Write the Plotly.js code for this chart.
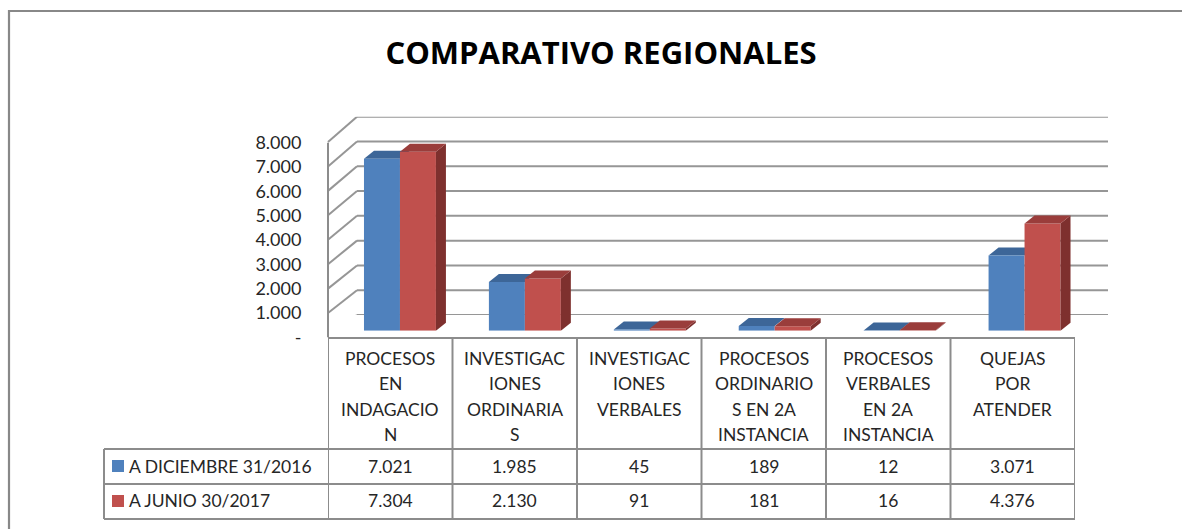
<!DOCTYPE html>
<html><head><meta charset="utf-8">
<script src="https://cdn.plot.ly/plotly-3.0.1.min.js"></script>
<style>html,body{margin:0;padding:0;background:#fff}#chart{width:1182px;height:529px}</style>
</head><body><div id="chart"></div>
<script>
// ---------- data ----------
const categoryLines = [
  ['PROCESOS','EN','INDAGACIO','N'],
  ['INVESTIGAC','IONES','ORDINARIA','S'],
  ['INVESTIGAC','IONES','VERBALES'],
  ['PROCESOS','ORDINARIO','S EN 2A','INSTANCIA'],
  ['PROCESOS','VERBALES','EN 2A','INSTANCIA'],
  ['QUEJAS','POR','ATENDER']
];
const seriesNames = ['A DICIEMBRE 31/2016', 'A JUNIO 30/2017'];
const dic2016 = [7021, 1985, 45, 189, 12, 3071];
const jun2017 = [7304, 2130, 91, 181, 16, 4376];
const yTickVals = [0, 1000, 2000, 3000, 4000, 5000, 6000, 7000, 8000];
const yTickText = ['-', '1.000', '2.000', '3.000', '4.000', '5.000', '6.000', '7.000', '8.000'];
const chartTitle = 'COMPARATIVO REGIONALES';

// ---------- geometry / style ----------
const W = 1182, H = 529;
const fx = p => p / W, fy = p => 1 - p / H;
const YMAX = 8000;
const BACK  = {x0: 357,   x1: 1108, y0: 315,   y1: 116.7};
const BARS  = {x0: 337.5, x1: 1087, y0: 330.7, y1: 134.7};
const FRONT = {x0: 328,   x1: 1075, y0: 337.5, y1: 142.5};
const TABLE = {left: 104, top: 338, head: 449, row1: 484, row2: 519};
const FONT = 'Lato, "Open Sans", sans-serif';
const TXT = '#262626';
const GRID = '#969696', TLINE = '#8c8c8c';
const BLUE = '#4F81BD', BLUE_TOP = '#3D6698';
const RED = '#C0504D', RED_TOP = '#9A3D3B', RED_SIDE = '#7E302E';
const BW = 0.288;           // bar width in category units
const DX = 10, DY = 8;      // bar depth in px
const fmt = v => v.toString().replace(/\B(?=(\d{3})+(?!\d))/g, '.');
const idx = dic2016.map((_, i) => i);
const nCat = categoryLines.length;

const traces = [
  {type: 'scatter', x: [], y: [], xaxis: 'x', yaxis: 'y', hoverinfo: 'skip', showlegend: false},
  {type: 'bar', name: seriesNames[0], x: idx, y: dic2016, xaxis: 'x2', yaxis: 'y2',
   width: BW, offset: -BW, marker: {color: BLUE, line: {width: 0}}, showlegend: false},
  {type: 'bar', name: seriesNames[1], x: idx, y: jun2017, xaxis: 'x2', yaxis: 'y2',
   width: BW, offset: 0, marker: {color: RED, line: {width: 0}}, showlegend: false},
  {type: 'scatter', x: [], y: [], xaxis: 'x3', yaxis: 'y3', hoverinfo: 'skip', showlegend: false}
];

const shapes = [];
// outer frame
shapes.push({type: 'rect', xref: 'paper', yref: 'paper', x0: fx(9), x1: fx(1200), y0: fy(11), y1: fy(560),
  line: {color: '#888888', width: 2.2}, fillcolor: 'rgba(0,0,0,0)', layer: 'below'});
// back wall gridlines + left wall diagonals
const dyWall = v => 22.5 + v * 2.8 / YMAX;
yTickVals.forEach(v => {
  shapes.push({type: 'line', xref: 'x domain', yref: 'y', x0: 0, x1: 1, y0: v, y1: v,
    line: {color: GRID, width: 2}, layer: 'below'});
  shapes.push({type: 'line', xref: 'x domain', yref: 'y', xsizemode: 'pixel', xanchor: 0, x0: 0, x1: -29,
    ysizemode: 'pixel', yanchor: v, y0: 0, y1: -dyWall(v), line: {color: GRID, width: 2}, layer: 'below'});
});
// floor right edge
shapes.push({type: 'line', xref: 'x domain', yref: 'y', xsizemode: 'pixel', xanchor: 1, x0: 0, x1: -31,
  ysizemode: 'pixel', yanchor: 0, y0: 0, y1: -23, line: {color: GRID, width: 2}, layer: 'below'});
// front-left vertical edge of the wall
shapes.push({type: 'line', xref: 'x3 domain', yref: 'y3', x0: 0, x1: 0, y0: 0, y1: YMAX,
  line: {color: TLINE, width: 2}, layer: 'below'});

// 3D faces of bars
const pxX = (BARS.x1 - BARS.x0) / nCat, pxY = (BARS.y0 - BARS.y1) / YMAX;
const ux = DX / pxX, uy = DY / pxY;
idx.forEach(i => {
  const vb = dic2016[i], vr = jun2017[i];
  const bl = i - BW, br = i, rl = i, rr = i + BW;
  shapes.push({type: 'path', xref: 'x2', yref: 'y2', layer: 'below', line: {width: 0}, fillcolor: BLUE_TOP,
    path: `M${bl},${vb} L${bl + ux},${vb + uy} L${br + ux},${vb + uy} L${br},${vb} Z`});
  shapes.push({type: 'path', xref: 'x2', yref: 'y2', layer: 'above', line: {width: 0}, fillcolor: RED_SIDE,
    path: `M${rr},0 L${rr},${vr} L${rr + ux},${vr + uy} L${rr + ux},${uy} Z`});
  shapes.push({type: 'path', xref: 'x2', yref: 'y2', layer: 'above', line: {width: 0}, fillcolor: RED_TOP,
    path: `M${rl},${vr} L${rl + ux},${vr + uy} L${rr + ux},${vr + uy} L${rr},${vr} Z`});
});

// data table lines
const tl = {color: TLINE, width: 2};
for (let k = 0; k <= nCat; k++) {
  shapes.push({type: 'line', xref: 'x3', yref: 'paper', x0: k - 0.5, x1: k - 0.5,
    y0: fy(TABLE.top), y1: fy(TABLE.row2), line: tl, layer: 'above'});
}
shapes.push({type: 'line', xref: 'x3', yref: 'paper', x0: -0.5, x1: nCat - 0.5, y0: fy(TABLE.top), y1: fy(TABLE.top), line: tl});
[TABLE.head, TABLE.row1, TABLE.row2].forEach(py => {
  shapes.push({type: 'line', xref: 'paper', yref: 'paper', x0: fx(TABLE.left), x1: fx(FRONT.x1), y0: fy(py), y1: fy(py), line: tl});
});
shapes.push({type: 'line', xref: 'paper', yref: 'paper', x0: fx(TABLE.left), x1: fx(TABLE.left),
  y0: fy(TABLE.head), y1: fy(TABLE.row2), line: tl});
// legend keys
[[BLUE, 466], [RED, 501]].forEach(([c, cy]) => {
  shapes.push({type: 'rect', xref: 'paper', yref: 'paper', x0: fx(112), x1: fx(124), y0: fy(cy - 6), y1: fy(cy + 6),
    line: {width: 0}, fillcolor: c});
});

// annotations
const annotations = [];
const tf = {family: FONT, size: 17.5, color: TXT};
categoryLines.forEach((lines, i) => {
  lines.forEach((t, j) => {
    annotations.push({xref: 'x3', yref: 'paper', x: i, y: fy(358.5 + 25.3 * j), text: t,
      showarrow: false, xanchor: 'center', yanchor: 'middle', font: tf});
  });
  annotations.push({xref: 'x3', yref: 'paper', x: i, y: fy(466), text: fmt(dic2016[i]),
    showarrow: false, xanchor: 'center', yanchor: 'middle', font: tf});
  annotations.push({xref: 'x3', yref: 'paper', x: i, y: fy(500.5), text: fmt(jun2017[i]),
    showarrow: false, xanchor: 'center', yanchor: 'middle', font: tf});
});
[[seriesNames[0], 466], [seriesNames[1], 500.5]].forEach(([t, cy]) => {
  annotations.push({xref: 'paper', yref: 'paper', x: fx(127), y: fy(cy), text: t,
    showarrow: false, xanchor: 'left', yanchor: 'middle', font: tf});
});

const hidden = {visible: false, fixedrange: true};
const layout = {
  width: W, height: H, autosize: false,
  margin: {l: 0, r: 0, t: 0, b: 0},
  paper_bgcolor: '#ffffff', plot_bgcolor: 'rgba(0,0,0,0)',
  showlegend: false, barmode: 'overlay',
  font: {family: FONT, color: TXT},
  title: {text: chartTitle, x: fx(601), xanchor: 'center', y: fy(53), yanchor: 'middle',
    xref: 'paper', yref: 'container',
    font: {family: '"Open Sans", Lato, sans-serif', size: 31, weight: 700, color: '#000000'}},
  xaxis: Object.assign({domain: [fx(BACK.x0), fx(BACK.x1)], range: [0, 1], anchor: 'y'}, hidden),
  yaxis: Object.assign({domain: [fy(BACK.y0), fy(BACK.y1)], range: [0, YMAX], anchor: 'x'}, hidden),
  xaxis2: Object.assign({domain: [fx(BARS.x0), fx(BARS.x1)], range: [-0.5, nCat - 0.5], anchor: 'y2'}, hidden),
  yaxis2: Object.assign({domain: [fy(BARS.y0), fy(BARS.y1)], range: [0, YMAX], anchor: 'x2'}, hidden),
  xaxis3: Object.assign({domain: [fx(FRONT.x0), fx(FRONT.x1)], range: [-0.5, nCat - 0.5], anchor: 'y3'}, hidden),
  yaxis3: {domain: [fy(FRONT.y0), fy(FRONT.y1)], range: [0, YMAX], anchor: 'x3', fixedrange: true,
    tickmode: 'array', tickvals: yTickVals, ticktext: yTickText,
    ticks: 'outside', ticklen: 22, tickcolor: 'rgba(0,0,0,0)',
    showgrid: false, zeroline: false, showline: false,
    tickfont: {family: FONT, size: 18, color: TXT}},
  shapes: shapes,
  annotations: annotations
};
Plotly.newPlot('chart', traces, layout, {displayModeBar: false, staticPlot: true});
</script>
</body></html>
